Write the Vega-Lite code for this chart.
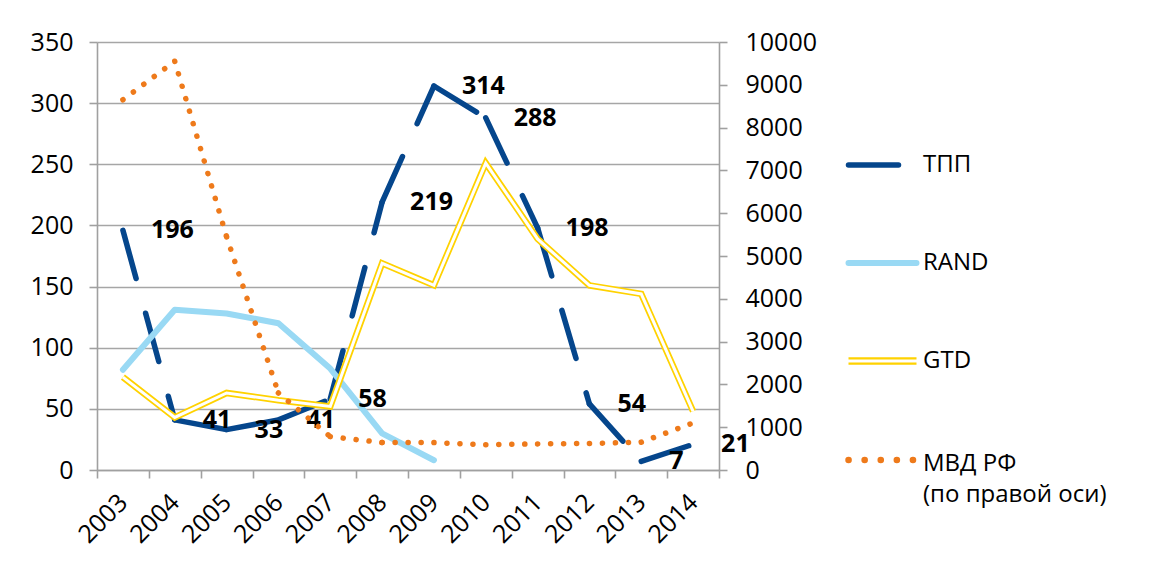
{
  "$schema": "https://vega.github.io/schema/vega-lite/v6.json",
  "width": 622,
  "height": 428,
  "autosize": "none",
  "padding": {"left": 97, "top": 42, "right": 457, "bottom": 100},
  "background": "white",
  "config": {
    "view": {"stroke": null},
    "font": "Open Sans",
    "axis": {"labelFont": "Open Sans", "labelFontSize": 25, "labelColor": "#000000", "domainColor": "#A0A0A0", "tickColor": "#A0A0A0", "domainWidth": 1.6, "tickWidth": 1.6, "tickSize": 8, "title": null}
  },
  "data": {
    "values": [
      {"year": 2003, "series": "ТПП", "value": 196},
      {"year": 2004, "series": "ТПП", "value": 41},
      {"year": 2005, "series": "ТПП", "value": 33},
      {"year": 2006, "series": "ТПП", "value": 41},
      {"year": 2007, "series": "ТПП", "value": 58},
      {"year": 2008, "series": "ТПП", "value": 219},
      {"year": 2009, "series": "ТПП", "value": 314},
      {"year": 2010, "series": "ТПП", "value": 288},
      {"year": 2011, "series": "ТПП", "value": 198},
      {"year": 2012, "series": "ТПП", "value": 54},
      {"year": 2013, "series": "ТПП", "value": 7},
      {"year": 2014, "series": "ТПП", "value": 21},
      {"year": 2003, "series": "RAND", "value": 82},
      {"year": 2004, "series": "RAND", "value": 131},
      {"year": 2005, "series": "RAND", "value": 128},
      {"year": 2006, "series": "RAND", "value": 120},
      {"year": 2007, "series": "RAND", "value": 83},
      {"year": 2008, "series": "RAND", "value": 30},
      {"year": 2009, "series": "RAND", "value": 8},
      {"year": 2003, "series": "GTD", "value": 76},
      {"year": 2004, "series": "GTD", "value": 43},
      {"year": 2005, "series": "GTD", "value": 63},
      {"year": 2006, "series": "GTD", "value": 57},
      {"year": 2007, "series": "GTD", "value": 52},
      {"year": 2008, "series": "GTD", "value": 169},
      {"year": 2009, "series": "GTD", "value": 151},
      {"year": 2010, "series": "GTD", "value": 251},
      {"year": 2011, "series": "GTD", "value": 189},
      {"year": 2012, "series": "GTD", "value": 151},
      {"year": 2013, "series": "GTD", "value": 144},
      {"year": 2014, "series": "GTD", "value": 48},
      {"year": 2003, "series": "МВД РФ", "value": 8650},
      {"year": 2004, "series": "МВД РФ", "value": 9550},
      {"year": 2005, "series": "МВД РФ", "value": 5450},
      {"year": 2006, "series": "МВД РФ", "value": 1800},
      {"year": 2007, "series": "МВД РФ", "value": 780},
      {"year": 2008, "series": "МВД РФ", "value": 640},
      {"year": 2009, "series": "МВД РФ", "value": 640},
      {"year": 2010, "series": "МВД РФ", "value": 590},
      {"year": 2011, "series": "МВД РФ", "value": 610},
      {"year": 2012, "series": "МВД РФ", "value": 620},
      {"year": 2013, "series": "МВД РФ", "value": 650},
      {"year": 2014, "series": "МВД РФ", "value": 1100}
    ]
  },
  "transform": [
    {"window": [{"op": "lead", "field": "value", "as": "value_next"}, {"op": "lead", "field": "year", "as": "year_next"}], "groupby": ["series"], "sort": [{"field": "year", "order": "ascending"}]}
  ],
  "encoding": {
    "x": {
      "field": "year", "type": "ordinal", "bandPosition": 0.5,
      "scale": {"type": "band", "paddingInner": 0, "paddingOuter": 0, "domain": [2003, 2004, 2005, 2006, 2007, 2008, 2009, 2010, 2011, 2012, 2013, 2014]},
      "axis": {"labelAngle": -45, "labelAlign": "right", "labelBaseline": "middle", "labelPadding": 20, "tickBand": "extent", "grid": false}
    }
  },
  "layer": [
    {
      "encoding": {
        "y": {"field": "value", "type": "quantitative", "scale": {"domain": [0, 350], "nice": false},
          "axis": {"values": [0, 50, 100, 150, 200, 250, 300, 350], "grid": true, "gridColor": "#A6A6A6", "gridWidth": 1.6, "labelPadding": 16}}
      },
      "layer": [
        {
          "transform": [{"filter": "datum.series == 'ТПП' && datum.year_next != null"}],
          "mark": {"type": "rule", "strokeWidth": 5.5, "strokeCap": "round", "strokeDash": [50, 36]},
          "encoding": {
            "x2": {"field": "year_next"},
            "y2": {"field": "value_next"},
            "stroke": {
              "field": "series", "type": "nominal",
              "scale": {"domain": ["ТПП", "RAND", "GTD", "МВД РФ"], "range": ["#05468C", "#99D9F4", "#FFD200", "#EE7A1B"]},
              "legend": {
                "title": null, "orient": "none", "legendX": 773.5, "legendY": 111, "padding": 0,
                "symbolType": "stroke", "symbolSize": 4624, "rowPadding": 74, "labelOffset": 28.5,
                "labelFont": "Open Sans", "labelFontSize": 24, "labelColor": "#000000", "labelLimit": 400,
                "labelExpr": "datum.label == 'МВД РФ' ? ['МВД РФ', '(по правой оси)'] : datum.label",
                "encode": {
                  "symbols": {"update": {
                    "size": {"value": 4624},
                    "strokeDash": {"signal": "datum.value == 'ТПП' ? [50, 36] : datum.value == 'МВД РФ' ? [0.1, 16] : [1, 0]"},
                    "strokeWidth": {"signal": "datum.value == 'GTD' ? 2.2 : datum.value == 'RAND' ? 6 : datum.value == 'МВД РФ' ? 6.5 : 5.5"},
                    "shape": {"signal": "datum.value == 'GTD' ? 'M-1,-0.078H1M-1,0.078H1' : 'stroke'"},
                    "strokeCap": {"signal": "datum.value == 'GTD' ? 'butt' : 'round'"},
                    "fill": {"value": "transparent"}
                  }},
                  "labels": {"update": {
                    "dy": {"signal": "datum.value == 'МВД РФ' ? 4 : 0"},
                    "lineHeight": {"value": 31}
                  }}
                }
              }
            }
          }
        },
        {
          "transform": [{"filter": "datum.series == 'RAND'"}],
          "mark": {"type": "line", "strokeWidth": 6, "strokeCap": "round", "strokeJoin": "round"},
          "encoding": {"stroke": {"field": "series", "type": "nominal"}}
        },
        {
          "transform": [{"filter": "datum.series == 'GTD'"}],
          "mark": {"type": "line", "strokeWidth": 6.5, "strokeJoin": "miter"},
          "encoding": {"stroke": {"field": "series", "type": "nominal"}}
        },
        {
          "transform": [{"filter": "datum.series == 'GTD'"}],
          "mark": {"type": "line", "strokeWidth": 3, "strokeJoin": "miter", "color": "white"}
        },
        {
          "transform": [{"filter": "datum.series == 'ТПП'"}],
          "mark": {"type": "text", "align": "left", "baseline": "middle", "dx": 28, "fontSize": 25, "fontWeight": "bold", "font": "Open Sans", "color": "#000000"},
          "encoding": {"text": {"field": "value", "type": "quantitative"}}
        }
      ]
    },
    {
      "transform": [{"filter": "datum.series == 'МВД РФ' && datum.year_next != null"}],
      "mark": {"type": "rule", "strokeWidth": 5.5, "strokeCap": "round", "strokeDash": [0.1, 12.9]},
      "encoding": {
        "y": {"field": "value", "type": "quantitative", "scale": {"domain": [0, 10000], "nice": false},
          "axis": {"orient": "right", "format": "d", "values": [0, 1000, 2000, 3000, 4000, 5000, 6000, 7000, 8000, 9000, 10000], "grid": false, "labelPadding": 18}},
        "x2": {"field": "year_next"},
        "y2": {"field": "value_next"},
        "stroke": {"field": "series", "type": "nominal"}
      }
    }
  ],
  "resolve": {"scale": {"y": "independent"}}
}
